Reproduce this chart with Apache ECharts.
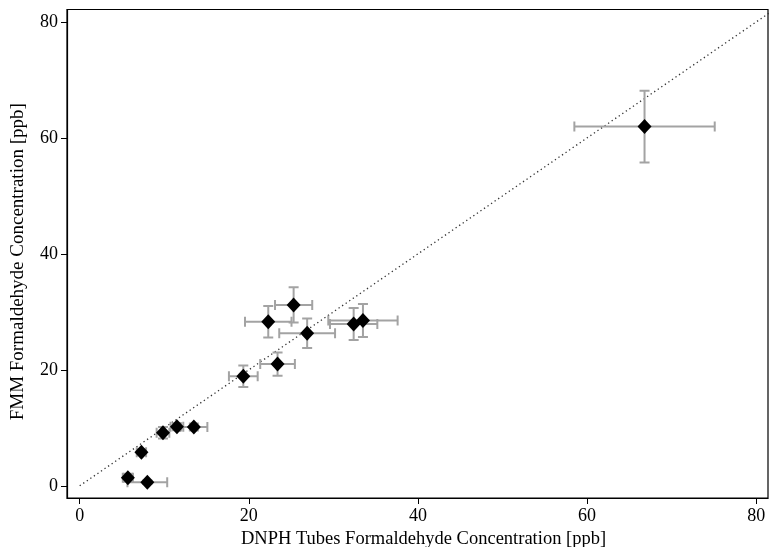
<!DOCTYPE html>
<html>
<head>
<meta charset="utf-8">
<script src="https://cdn.jsdelivr.net/npm/echarts@6/dist/echarts.min.js"></script>
<style>
  html, body { margin: 0; padding: 0; background: #fff; }
  #chart { width: 769px; height: 547px; }
</style>
</head>
<body>
<div id="chart"></div>
<script>
// Formaldehyde: DNPH tube samples vs. FMM instrument, with 1-sigma uncertainties
const dnph    = [5.7, 8.0, 7.3, 9.85, 11.5, 13.5, 19.35, 23.4, 22.3, 25.3, 26.9, 32.4, 33.5, 66.8];
const fmm     = [1.4, 0.6, 5.8, 9.15, 10.2, 10.15, 18.9, 21.0, 28.3, 31.2, 26.3, 27.9, 28.5, 61.95];
const dnphErr = [0.6, 2.35, 0.55, 0.75, 0.75, 1.6, 1.7, 2.05, 2.75, 2.2, 3.3, 2.8, 4.1, 8.3];
const fmmErr  = [0.7, 0.3, 0.5, 1.0, 0.6, 0.6, 1.85, 2.0, 2.7, 3.05, 2.55, 2.75, 2.85, 6.2];
const tickValues = [0, 20, 40, 60, 80];
const oneToOne = [[0, 0], [82, 82]];

const points = dnph.map((x, i) => [x, fmm[i], dnphErr[i], fmmErr[i]]);

const FONT = 'Liberation Serif';
const CAP = 5;

function renderErrorBars(params, api) {
  const x = api.value(0), y = api.value(1), ex = api.value(2), ey = api.value(3);
  const l = api.coord([x - ex, y]);
  const r = api.coord([x + ex, y]);
  const t = api.coord([x, y + ey]);
  const b = api.coord([x, y - ey]);
  const style = { stroke: '#a3a3a3', lineWidth: 2, fill: null };
  const seg = (x1, y1, x2, y2) => ({ type: 'line', shape: { x1, y1, x2, y2 }, style });
  return {
    type: 'group',
    children: [
      seg(l[0], l[1], r[0], r[1]),
      seg(l[0], l[1] - CAP, l[0], l[1] + CAP),
      seg(r[0], r[1] - CAP, r[0], r[1] + CAP),
      seg(t[0], t[1], b[0], b[1]),
      seg(t[0] - CAP, t[1], t[0] + CAP, t[1]),
      seg(b[0] - CAP, b[1], b[0] + CAP, b[1])
    ]
  };
}

const axisCommon = {
  type: 'value',
  splitLine: { show: false },
  axisLine: { show: true, onZero: false, lineStyle: { color: '#000', width: 1.2 } },
  axisTick: { show: true, inside: false, length: 6, customValues: tickValues, lineStyle: { color: '#000', width: 1 } },
  axisLabel: { customValues: tickValues, color: '#000', fontFamily: FONT, fontSize: 18 },
  nameLocation: 'middle'
};

const chart = echarts.init(document.getElementById('chart'));
chart.setOption({
  animation: false,
  backgroundColor: '#fff',
  grid: {
    left: 67, right: 1, top: 9.5, bottom: 49,
    show: true, borderColor: '#000', borderWidth: 1.2,
    containLabel: false, outerBoundsMode: 'none'
  },
  xAxis: Object.assign({}, axisCommon, {
    min: -1.5, max: 81.4,
    name: 'DNPH Tubes Formaldehyde Concentration [ppb]',
    nameGap: 30,
    nameTextStyle: { color: '#000', fontFamily: FONT, fontSize: 18.5, padding: [0, 0, 0, 12] },
    axisLabel: Object.assign({}, axisCommon.axisLabel, { margin: 9 })
  }),
  yAxis: Object.assign({}, axisCommon, {
    min: -2.1, max: 82.15,
    name: 'FMM Formaldehyde Concentration [ppb]',
    nameGap: 39,
    nameTextStyle: { color: '#000', fontFamily: FONT, fontSize: 19, padding: [0, 16, 0, 0] },
    axisLabel: Object.assign({}, axisCommon.axisLabel, { margin: 9 })
  }),
  series: [
    {
      type: 'line',
      data: oneToOne,
      symbol: 'none',
      clip: true,
      silent: true,
      lineStyle: { color: '#333', width: 1.3, type: [1.3, 3] },
      z: 1
    },
    {
      type: 'custom',
      data: points,
      renderItem: renderErrorBars,
      encode: { x: 0, y: 1 },
      clip: true,
      z: 2
    },
    {
      type: 'scatter',
      data: points.map(p => [p[0], p[1]]),
      symbol: 'diamond',
      symbolSize: [14, 15],
      itemStyle: { color: '#000', opacity: 1 },
      z: 3
    }
  ]
});
</script>
</body>
</html>
